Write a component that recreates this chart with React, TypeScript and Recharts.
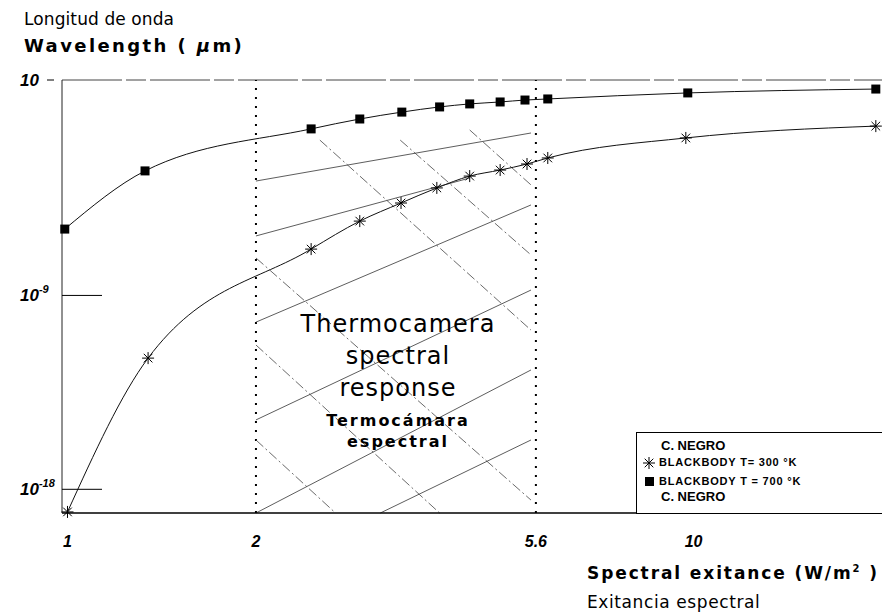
import React from 'react';
import { ComposedChart, Line, XAxis, YAxis, ReferenceLine } from 'recharts';

const FONT = '"Liberation Sans", Arial, sans-serif';
const WIDE = '"DejaVu Sans", Verdana, sans-serif';

// spectral exitance (W/m2), log axis
const xTicks = [1, 2, 5.6, 10];
// wavelength, as powers of ten
const yTicks = [1, -9, -18];
const yTickExp: Record<number, string> = { 1: '', [-9]: '-9', [-18]: '-18' };

// blackbody T = 700 K (squares)
const bb700X = [0.99, 1.33, 2.45, 2.93, 3.42, 3.93, 4.39, 4.91, 5.38, 5.85, 9.79, 19.55];
const bb700Y = [-5.92, -3.22, -1.27, -0.81, -0.49, -0.25, -0.11, -0.02, 0.07, 0.12, 0.4, 0.58];

// blackbody T = 300 K (stars)
const bb300X = [1.0, 1.345, 2.45, 2.93, 3.41, 3.89, 4.39, 4.91, 5.42, 5.85, 9.72, 19.55];
const bb300Y = [-19.05, -11.91, -6.85, -5.55, -4.71, -4.01, -3.46, -3.18, -2.9, -2.62, -1.69, -1.14];

// thermocamera response band hatching: [x1, y1, x2, y2]
const hatchSolid = [
  [2.0, -3.69, 5.5, -1.46],
  [2.0, -6.24, 4.39, -3.55],
  [2.0, -10.24, 5.5, -4.8],
  [2.0, -14.78, 5.5, -8.75],
  [2.0, -19.1, 5.5, -12.46],
  [3.16, -19.1, 5.5, -15.71],
];
const hatchDashDot = [
  [2.53, -1.79, 5.5, -10.61],
  [2.0, -7.26, 5.5, -18.5],
  [2.0, -11.3, 3.93, -19.1],
  [2.0, -15.71, 2.68, -19.1],
  [3.4, -1.79, 5.5, -7.12],
  [4.39, -1.32, 5.5, -3.87],
];

const bb700 = bb700X.map((x, i) => ({ x, y: bb700Y[i] }));
const bb300 = bb300X.map((x, i) => ({ x, y: bb300Y[i] }));

const SquareDot = (props: any) => {
  const { cx, cy, index } = props;
  return <rect key={'sq' + index} x={cx - 4.5} y={cy - 4.5} width={9} height={9} fill="#000" />;
};

const StarDot = (props: any) => {
  const { cx, cy, index } = props;
  const r = 6;
  const d = 4.3;
  return (
    <g key={'st' + index} stroke="#000" strokeWidth={1}>
      <line x1={cx - r} y1={cy} x2={cx + r} y2={cy} />
      <line x1={cx} y1={cy - r} x2={cx} y2={cy + r} />
      <line x1={cx - d} y1={cy - d} x2={cx + d} y2={cy + d} />
      <line x1={cx - d} y1={cy + d} x2={cx + d} y2={cy - d} />
    </g>
  );
};

const XTick = (props: any) => {
  const { x, y, payload } = props;
  return (
    <text x={x} y={y + 26} textAnchor="middle" fontFamily={FONT} fontWeight={700} fontStyle="italic" fontSize={16} fill="#000">
      {payload.value}
    </text>
  );
};

const YTick = (props: any) => {
  const { y, payload } = props;
  const exp = yTickExp[payload.value];
  return (
    <g>
      <text x={20} y={y + 6} fontFamily={FONT} fontWeight={700} fontStyle="italic" fontSize={17} fill="#000">
        10
        {exp ? (
          <tspan dy={-8} fontSize={11}>
            {exp}
          </tspan>
        ) : null}
      </text>
      {exp ? (
        <line x1={62} y1={y} x2={102} y2={y} stroke="#000" strokeWidth={1} />
      ) : (
        <line x1={47} y1={y} x2={54} y2={y} stroke="#000" strokeWidth={1} />
      )}
    </g>
  );
};

const legendText: React.CSSProperties = {
  position: 'absolute',
  fontFamily: FONT,
  fontWeight: 700,
  color: '#000',
  whiteSpace: 'nowrap',
};

const ChartLegend = () => (
  <div style={{ position: 'absolute', left: 636, top: 432, width: 250, height: 80, border: '1px solid #000', background: '#fff' }}>
    <div style={{ ...legendText, left: 24, top: 5, fontSize: 13 }}>C. NEGRO</div>
    <svg style={{ position: 'absolute', left: 4, top: 22 }} width={16} height={16}>
      {StarDot({ cx: 8, cy: 8, index: 0 })}
    </svg>
    <div style={{ ...legendText, left: 22, top: 23, fontSize: 11, letterSpacing: 0.8 }}>BLACKBODY T= 300 °K</div>
    <svg style={{ position: 'absolute', left: 6, top: 42 }} width={14} height={14}>
      <rect x={2} y={2} width={9} height={9} fill="#000" />
    </svg>
    <div style={{ ...legendText, left: 22, top: 42, fontSize: 11, letterSpacing: 0.8 }}>BLACKBODY T = 700 °K</div>
    <div style={{ ...legendText, left: 24, top: 56, fontSize: 13 }}>C. NEGRO</div>
  </div>
);

const overlay: React.CSSProperties = {
  position: 'absolute',
  fontFamily: WIDE,
  color: '#000',
  whiteSpace: 'nowrap',
};

export default function App() {
  return (
    <div style={{ position: 'absolute', left: 0, top: 0, width: 882, height: 613, background: '#fff', overflow: 'hidden' }}>
      <ComposedChart width={882} height={613} margin={{ top: 80, right: 0, bottom: 60, left: 12 }}>
        <XAxis
          type="number"
          dataKey="x"
          scale="log"
          domain={[0.98, 20]}
          ticks={xTicks}
          tick={<XTick />}
          tickLine={false}
          axisLine={{ stroke: '#000', strokeWidth: 1.5 }}
          height={40}
        />
        <YAxis
          type="number"
          dataKey="y"
          domain={[-19.1, 1]}
          ticks={yTicks}
          tick={<YTick />}
          tickLine={false}
          axisLine={{ stroke: '#222', strokeWidth: 1 }}
          width={50}
        />
        <ReferenceLine y={1} stroke="#444" strokeWidth={1} strokeDasharray="60 4 20 4" />
        <ReferenceLine x={2} stroke="#000" strokeWidth={2} strokeDasharray="2 7" />
        <ReferenceLine x={5.6} stroke="#000" strokeWidth={2} strokeDasharray="2 7" />
        {hatchSolid.map((s, i) => (
          <Line
            key={'hs' + i}
            data={[{ x: s[0], y: s[1] }, { x: s[2], y: s[3] }]}
            dataKey="y"
            type="linear"
            stroke="#333"
            strokeWidth={0.8}
            dot={false}
            activeDot={false}
            isAnimationActive={false}
          />
        ))}
        {hatchDashDot.map((s, i) => (
          <Line
            key={'hd' + i}
            data={[{ x: s[0], y: s[1] }, { x: s[2], y: s[3] }]}
            dataKey="y"
            type="linear"
            stroke="#444"
            strokeWidth={0.8}
            strokeDasharray="10 3 2 3"
            dot={false}
            activeDot={false}
            isAnimationActive={false}
          />
        ))}
        <Line
          data={bb300}
          dataKey="y"
          name="BLACKBODY T= 300 °K"
          type="monotone"
          stroke="#111"
          strokeWidth={1}
          dot={StarDot}
          activeDot={false}
          isAnimationActive={false}
        />
        <Line
          data={bb700}
          dataKey="y"
          name="BLACKBODY T = 700 °K"
          type="monotone"
          stroke="#111"
          strokeWidth={1}
          dot={SquareDot}
          activeDot={false}
          isAnimationActive={false}
        />
      </ComposedChart>

      <ChartLegend />

      <div style={{ ...overlay, left: 24, top: 9, fontSize: 17, letterSpacing: 0.1 }}>Longitud de onda</div>
      <div style={{ ...overlay, left: 24, top: 35, fontSize: 18, fontWeight: 700, letterSpacing: 2.4 }}>
        Wavelength ( <i>μ</i>m)
      </div>

      <div style={{ ...overlay, left: 288, top: 308, width: 220, textAlign: 'center', fontSize: 24, lineHeight: '32px', letterSpacing: 1 }}>
        Thermocamera
        <br />
        spectral
        <br />
        response
      </div>
      <div style={{ ...overlay, left: 303, top: 410, width: 190, textAlign: 'center', fontSize: 16, fontWeight: 700, lineHeight: '21px', letterSpacing: 2 }}>
        Termocámara
        <br />
        espectral
      </div>

      <div style={{ ...overlay, left: 587, top: 563, fontSize: 17, fontWeight: 700, letterSpacing: 1.9 }}>
        Spectral exitance (W/m<sup style={{ fontSize: 10 }}>2</sup> )
      </div>
      <div style={{ ...overlay, left: 587, top: 592, fontSize: 17, letterSpacing: 0.6 }}>Exitancia espectral</div>
    </div>
  );
}
